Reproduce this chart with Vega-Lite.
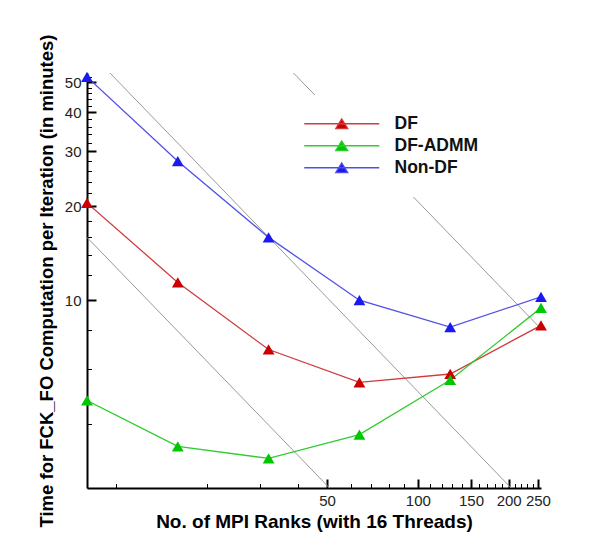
{
  "$schema": "https://vega.github.io/schema/vega-lite/v6.json",
  "width": 454,
  "height": 415,
  "autosize": {"type": "none"},
  "padding": {"left": 87, "top": 73, "right": 64, "bottom": 51},
  "background": "white",
  "config": {"view": {"stroke": null}, "font": "Liberation Sans"},
  "datasets": {
    "perf": [
      {"series": "DF", "ranks": 8, "time": 20.5},
      {"series": "DF", "ranks": 16, "time": 11.4},
      {"series": "DF", "ranks": 32, "time": 6.95},
      {"series": "DF", "ranks": 64, "time": 5.45},
      {"series": "DF", "ranks": 128, "time": 5.8},
      {"series": "DF", "ranks": 256, "time": 8.3},
      {"series": "DF-ADMM", "ranks": 8, "time": 4.77},
      {"series": "DF-ADMM", "ranks": 16, "time": 3.4},
      {"series": "DF-ADMM", "ranks": 32, "time": 3.11},
      {"series": "DF-ADMM", "ranks": 64, "time": 3.71},
      {"series": "DF-ADMM", "ranks": 128, "time": 5.55},
      {"series": "DF-ADMM", "ranks": 256, "time": 9.45},
      {"series": "Non-DF", "ranks": 8, "time": 52},
      {"series": "Non-DF", "ranks": 16, "time": 27.9},
      {"series": "Non-DF", "ranks": 32, "time": 15.9},
      {"series": "Non-DF", "ranks": 64, "time": 10.0},
      {"series": "Non-DF", "ranks": 128, "time": 8.2},
      {"series": "Non-DF", "ranks": 256, "time": 10.25}
    ],
    "ref": [
      {"line": "A", "ranks": 8, "time": 63.75},
      {"line": "A", "ranks": 256, "time": 1.99},
      {"line": "B", "ranks": 8, "time": 15.9},
      {"line": "B", "ranks": 64, "time": 1.99},
      {"line": "C", "ranks": 32, "time": 64.7},
      {"line": "C", "ranks": 256, "time": 8.09}
    ]
  },
  "layer": [
    {
      "data": {"name": "ref"},
      "mark": {"type": "line", "color": "#999999", "strokeWidth": 1, "clip": true},
      "encoding": {
        "x": {
          "field": "ranks", "type": "quantitative",
          "scale": {"type": "log", "domain": [8, 256], "nice": false},
          "axis": {
            "values": [10,20,30,40,50,60,70,80,90,100,110,120,130,140,150,160,170,180,190,200,210,220,230,240,250],
            "labelExpr": "indexof([50,100,150,200,250], datum.value) >= 0 ? datum.label : ''",
            "tickSize": {"condition": {"test": "indexof([50,100,150,200,250], datum.value) >= 0", "value": -9}, "value": -4.5},
            "tickWidth": {"condition": {"test": "indexof([50,100,150,200,250], datum.value) >= 0", "value": 2}, "value": 1},
            "tickColor": "black",
            "domainColor": "black",
            "domainWidth": 2,
            "grid": false,
            "labelOverlap": false,
            "labelFlush": false,
            "labelFontSize": 15,
            "labelColor": "#222222",
            "labelPadding": 14,
            "title": "No. of MPI Ranks (with 16 Threads)",
            "titleFontSize": 19,
            "titleFontWeight": "bold",
            "titleColor": "black",
            "titlePadding": 0
          }
        },
        "y": {
          "field": "time", "type": "quantitative",
          "scale": {"type": "log", "domain": [2.5, 53.5], "nice": false},
          "axis": {
            "values": [4,6,8,10,12,14,16,18,20,22,24,26,28,30,32,34,36,38,40,42,44,46,48,50,52],
            "labelExpr": "indexof([10,20,30,40,50], datum.value) >= 0 ? datum.label : ''",
            "tickSize": {"condition": {"test": "indexof([10,20,30,40,50], datum.value) >= 0", "value": -9}, "value": -4.5},
            "tickWidth": {"condition": {"test": "indexof([10,20,30,40,50], datum.value) >= 0", "value": 2}, "value": 1},
            "tickColor": "black",
            "domainColor": "black",
            "domainWidth": 2,
            "grid": false,
            "labelOverlap": false,
            "labelFlush": false,
            "labelBound": false,
            "labelAlign": "right",
            "labelFontSize": 15,
            "labelColor": "#222222",
            "labelPadding": 15,
            "title": "Time for FCK_FO Computation per Iteration (in minutes)",
            "titleFontSize": 18.5,
            "titleFontWeight": "bold",
            "titleColor": "black",
            "titlePadding": 8
          }
        },
        "detail": {"field": "line"}
      }
    },
    {
      "data": {"name": "perf"},
      "mark": {"type": "line", "strokeWidth": 1.3, "clip": true},
      "encoding": {
        "x": {"field": "ranks", "type": "quantitative"},
        "y": {"field": "time", "type": "quantitative"},
        "stroke": {
          "field": "series", "type": "nominal",
          "scale": {"domain": ["DF", "DF-ADMM", "Non-DF"], "range": ["#D03C3C", "#30CC30", "#5050E8"]},
          "legend": {
            "title": null,
            "orient": "none",
            "legendX": 226,
            "legendY": 22,
            "zindex": 1,
            "fillColor": "white",
            "padding": 20,
            "symbolType": "M-6.25,0L6.25,0M0,-0.8L-1,0.8L1,0.8Z",
            "symbolSize": 144,
            "symbolStrokeWidth": 1.3,
            "labelFontSize": 17.5,
            "labelFontWeight": "bold",
            "labelColor": "#111111",
            "labelOffset": 44,
            "rowPadding": 3,
            "encode": {
              "symbols": {
                "update": {
                  "stroke": {"scale": "stroke", "field": "value"},
                  "fill": {"scale": "fill", "field": "value"},
                  "opacity": {"value": 1}
                }
              }
            }
          }
        }
      }
    },
    {
      "data": {"name": "perf"},
      "mark": {"type": "point", "shape": "triangle-up", "filled": true, "size": 140, "opacity": 1},
      "encoding": {
        "x": {"field": "ranks", "type": "quantitative"},
        "y": {"field": "time", "type": "quantitative"},
        "fill": {
          "field": "series", "type": "nominal",
          "scale": {"domain": ["DF", "DF-ADMM", "Non-DF"], "range": ["#CC0000", "#00C800", "#1A1AF0"]},
          "legend": {
            "title": null,
            "orient": "none",
            "legendX": 226,
            "legendY": 22,
            "zindex": 1,
            "fillColor": "white",
            "padding": 20,
            "symbolType": "M-6.25,0L6.25,0M0,-0.8L-1,0.8L1,0.8Z",
            "symbolSize": 144,
            "symbolStrokeWidth": 1.3,
            "labelFontSize": 17.5,
            "labelFontWeight": "bold",
            "labelColor": "#111111",
            "labelOffset": 44,
            "rowPadding": 3,
            "encode": {
              "symbols": {
                "update": {
                  "stroke": {"scale": "stroke", "field": "value"},
                  "fill": {"scale": "fill", "field": "value"},
                  "opacity": {"value": 1}
                }
              }
            }
          }
        }
      }
    }
  ]
}
